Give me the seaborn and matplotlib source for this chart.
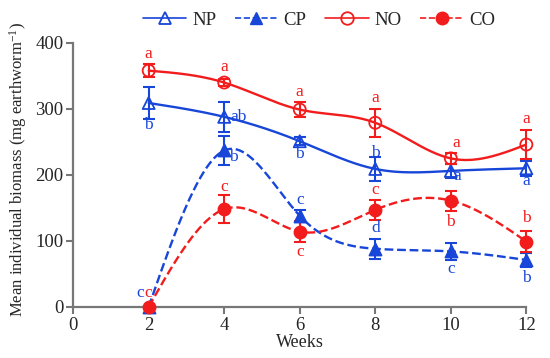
import numpy as np
import pandas as pd
import matplotlib
matplotlib.use("Agg")
import matplotlib.pyplot as plt
import seaborn as sns
from matplotlib.lines import Line2D

weeks = [2, 4, 6, 8, 10, 12]
np_mean = [309, 288, 251, 209, 206, 210]
np_err = [24, 23, 6, 18, 11, 11]
cp_mean = [0, 237, 138, 88, 84, 71]
cp_err = [0, 22, 9, 15, 13, 11]
no_mean = [358, 340, 299, 279, 225, 246]
no_err = [10, 6, 11, 21, 8, 22]
co_mean = [0, 148, 114, 147, 161, 99]
co_err = [0, 21, 16, 15, 15, 16]

np_lab = ["b", "ab", "b", "b", "a", "a"]
cp_lab = ["c", "b", "c", "d", "c", "b"]
no_lab = ["a", "a", "a", "a", "a", "a"]
co_lab = ["c", "c", "c", "c", "b", "b"]

BLUE = "#1746d8"
RED = "#f21c1c"

sns.set_theme(style="ticks")
plt.rcParams["font.family"] = ["Liberation Serif", "DejaVu Serif"]
plt.rcParams["mathtext.fontset"] = "custom"
plt.rcParams["mathtext.rm"] = "Liberation Serif"
plt.rcParams["mathtext.it"] = "Liberation Serif:italic"


def natural_spline(x, y, n=300):
    x = np.asarray(x, float)
    y = np.asarray(y, float)
    k = len(x)
    h = np.diff(x)
    A = np.zeros((k, k))
    b = np.zeros(k)
    A[0, 0] = A[-1, -1] = 1
    for i in range(1, k - 1):
        A[i, i - 1] = h[i - 1]
        A[i, i] = 2 * (h[i - 1] + h[i])
        A[i, i + 1] = h[i]
        b[i] = 6 * ((y[i + 1] - y[i]) / h[i] - (y[i] - y[i - 1]) / h[i - 1])
    M = np.linalg.solve(A, b)
    xs = np.linspace(x[0], x[-1], n)
    idx = np.clip(np.searchsorted(x, xs) - 1, 0, k - 2)
    x0, x1 = x[idx], x[idx + 1]
    hh = x1 - x0
    t0 = x1 - xs
    t1 = xs - x0
    ys = (M[idx] * t0 ** 3 + M[idx + 1] * t1 ** 3) / (6 * hh) \
        + (y[idx] / hh - M[idx] * hh / 6) * t0 \
        + (y[idx + 1] / hh - M[idx + 1] * hh / 6) * t1
    return xs, ys


fig, ax = plt.subplots(figsize=(5.5, 3.58), dpi=100)
fig.subplots_adjust(left=0.133, right=0.957, bottom=0.143, top=0.88)

series = [
    ("NP", np_mean, np_err, BLUE, "-", "^", "none"),
    ("CP", cp_mean, cp_err, BLUE, "--", "^", BLUE),
    ("NO", no_mean, no_err, RED, "-", "o", "none"),
    ("CO", co_mean, co_err, RED, "--", "o", RED),
]

for name, m, e, col, ls, mk, fc in series:
    xs, ys = natural_spline(weeks, m)
    ax.plot(xs, ys, color=col, ls=ls, lw=1.7, zorder=2)
    ax.errorbar(weeks, m, yerr=e, fmt="none", ecolor=col, elinewidth=1.5,
                capsize=4, capthick=1.5, zorder=3, clip_on=False)
    df = pd.DataFrame({"w": weeks, "v": m})
    sns.scatterplot(data=df, x="w", y="v", ax=ax, marker=mk, s=75,
                    facecolor=fc, edgecolor=col, linewidth=1.3, zorder=4,
                    clip_on=False, legend=False)

fs = 12.5
X = 0.0265  # weeks per pixel
# NP letters (dx px, dy value units)
np_off = [(0, -33), (14, 0), (0, -20), (0, 24), (6, -8), (0, -20)]
for w, v, l, (dx, dy) in zip(weeks, np_mean, np_lab, np_off):
    ax.text(w + dx * X, v + dy, l, color=BLUE, fontsize=fs,
            ha="center", va="center")
# CP letters
cp_off = [(-8, 21), (9, -10), (0, 24), (0, 31), (0, -27), (0, -28)]
for w, v, l, (dx, dy) in zip(weeks, cp_mean, cp_lab, cp_off):
    ax.text(w + dx * X, v + dy, l, color=BLUE, fontsize=fs,
            ha="center", va="center")
# NO letters
no_off = [(0, 25), (0, 23), (0, 27), (0, 37), (5, 23), (0, 39)]
for w, v, l, (dx, dy) in zip(weeks, no_mean, no_lab, no_off):
    ax.text(w + dx * X, v + dy, l, color=RED, fontsize=fs,
            ha="center", va="center")
# CO letters
co_off = [(0, 21), (0, 33), (0, -31), (0, 30), (0, -32), (0, 35)]
for w, v, l, (dx, dy) in zip(weeks, co_mean, co_lab, co_off):
    ax.text(w + dx * X, v + dy, l, color=RED, fontsize=fs,
            ha="center", va="center")

ax.set_xlim(0, 12)
ax.set_ylim(0, 400)
ax.set_xticks([0, 2, 4, 6, 8, 10, 12])
ax.set_yticks([0, 100, 200, 300, 400])
ax.set_xlabel("Weeks", fontsize=13, labelpad=0)
ax.set_ylabel("Mean individual biomass (mg earthworm$^{-1}$)", fontsize=12)
ax.yaxis.set_label_coords(-0.097, 0.52)
ax.tick_params(axis="both", labelsize=13.5, color="#777777", width=1.5, length=5,
               direction="out", pad=2)
for s in ["left", "bottom"]:
    ax.spines[s].set_color("#777777")
    ax.spines[s].set_linewidth(1.6)
sns.despine(ax=ax)

handles = [
    Line2D([], [], color=BLUE, ls="-", lw=1.2, marker="^", mfc="none", mec=BLUE, ms=9, mew=1.3),
    Line2D([], [], color=BLUE, ls="--", lw=1.2, marker="^", mfc=BLUE, mec=BLUE, ms=9),
    Line2D([], [], color=RED, ls="-", lw=1.2, marker="o", mfc="none", mec=RED, ms=9, mew=1.3),
    Line2D([], [], color=RED, ls="--", lw=1.2, marker="o", mfc=RED, mec=RED, ms=9),
]
fig.legend(handles, ["NP", "CP", "NO", "CO"], loc="upper center",
           bbox_to_anchor=(0.58, 1.015), ncol=4, frameon=False, fontsize=13.5,
           handlelength=2.3, columnspacing=1.0, handletextpad=0.3)

fig.savefig("out.png", dpi=100)
